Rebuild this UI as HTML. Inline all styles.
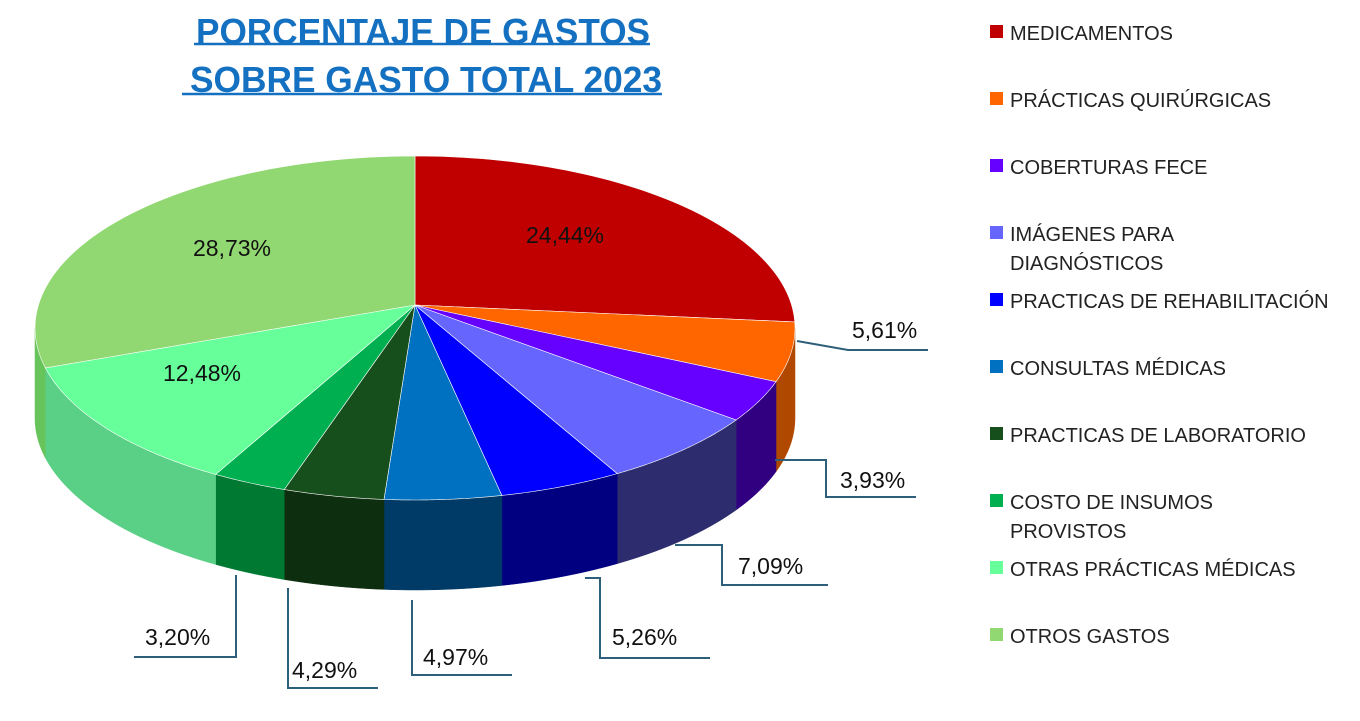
<!DOCTYPE html>
<html><head><meta charset="utf-8"><style>
body{margin:0;background:#fff;}
svg{display:block;font-family:"Liberation Sans",Arial,sans-serif;}
</style></head><body>
<svg id="chart" width="1360" height="721" viewBox="0 0 1360 721">
<g fill="#1470C0" font-weight="bold" font-size="36">
<text x="196" y="44" textLength="454" lengthAdjust="spacingAndGlyphs">PORCENTAJE DE GASTOS</text>
<line x1="194" y1="44" x2="650" y2="44" stroke="#1470C0" stroke-width="2.5"/>
<text x="190" y="92" textLength="472" lengthAdjust="spacingAndGlyphs">SOBRE GASTO TOTAL 2023</text>
<line x1="182" y1="94" x2="662" y2="94" stroke="#1470C0" stroke-width="2.5"/>
</g>
<g id="sides"></g><g id="tops"></g><g id="labels"></g><g id="legend"></g>
</svg>
<script>
const categories=["MEDICAMENTOS","PRÁCTICAS QUIRÚRGICAS","COBERTURAS FECE","IMÁGENES PARA DIAGNÓSTICOS","PRACTICAS DE REHABILITACIÓN","CONSULTAS MÉDICAS","PRACTICAS DE LABORATORIO","COSTO DE INSUMOS PROVISTOS","OTRAS PRÁCTICAS MÉDICAS","OTROS GASTOS"];
const values=[24.44,5.61,3.93,7.09,5.26,4.97,4.29,3.20,12.48,28.73];
const valueLabels=["24,44%","5,61%","3,93%","7,09%","5,26%","4,97%","4,29%","3,20%","12,48%","28,73%"];
const colors=["#C00000","#FF6600","#6600FF","#6666FF","#0000FF","#0070C0","#174F1C","#00B050","#66FF99","#92D872"];
const sideColors=["#800000","#B04800","#300080","#2C2C6E","#000080","#003A66","#0E2E10","#007A33","#5ACF86","#66C45A"];
const NS="http://www.w3.org/2000/svg";
const cx=415,cy=328,rx=380,ry=172,ax=415,ay=305,depth=90;
function pt(frac){const a=frac*2*Math.PI;return [cx+rx*Math.sin(a),cy-ry*Math.cos(a)];}
function mk(tag,attrs,parent){const e=document.createElementNS(NS,tag);for(const k in attrs)e.setAttribute(k,attrs[k]);parent.appendChild(e);return e;}
const total=values.reduce((a,b)=>a+b,0);
const sides=document.getElementById('sides'),tops=document.getElementById('tops'),labels=document.getElementById('labels'),legend=document.getElementById('legend');
let acc=0;const spans=[];
values.forEach((v,i)=>{const s=acc/total,e=(acc+v)/total;spans.push([s,e]);acc+=v;});
// sides
spans.forEach(([s,e],i)=>{
  const a0=Math.max(s,0.25),a1=Math.min(e,0.75);
  if(a1<=a0)return;
  const up=[],dn=[];const n=40;
  for(let k=0;k<=n;k++){const p=pt(a0+(a1-a0)*k/n);up.push(p);dn.unshift([p[0],p[1]+depth]);}
  const el=mk('polygon',{points:up.concat(dn).map(p=>p.join(',')).join(' '),fill:sideColors[i],stroke:sideColors[i],'stroke-width':0.5},sides);
  
  
});
// tops
spans.forEach(([s,e],i)=>{
  const pts=[[ax,ay]];const n=60;
  for(let k=0;k<=n;k++)pts.push(pt(s+(e-s)*k/n));
  const el=mk('polygon',{points:pts.map(p=>p.join(',')).join(' '),fill:colors[i],stroke:'#fff','stroke-width':0.6},tops);
  
  
});
// inside labels
const inside={0:[565,243],8:[202,381],9:[232,256]};
// callouts: [leader polyline, text x, text y]
const callouts={1:[[[797,341],[848,350],[928,350]],852,338],2:[[[775,460],[826,460],[826,497],[916,497]],840,488],3:[[[675,545],[722,545],[722,585],[828,585]],738,574],4:[[[585,578],[600,578],[600,658],[710,658]],612,645],5:[[[412,600],[412,675],[512,675]],423,665],6:[[[288,588],[288,688],[378,688]],292,678],7:[[[236,575],[236,657],[134,657]],145,645]};
values.forEach((v,i)=>{
  if(inside[i]){const t=mk('text',{x:inside[i][0],y:inside[i][1],'font-size':23,'text-anchor':'middle',fill:'#111'},labels);t.textContent=valueLabels[i];
    
    }
  else{const c=callouts[i];
    const l=mk('polyline',{points:c[0].map(p=>p.join(',')).join(' '),fill:'none',stroke:'#2E5F7A','stroke-width':2},labels);
    
    
    const t=mk('text',{x:c[1],y:c[2],'font-size':23,fill:'#111'},labels);t.textContent=valueLabels[i];
    
    }
});
// legend
const legendY=[33,100,167,234,301,368,435,502,569,636];
const legendLines={3:["IMÁGENES PARA","DIAGNÓSTICOS"],7:["COSTO DE INSUMOS","PROVISTOS"]};
categories.forEach((c,i)=>{
  const g=mk('g',{},legend);
  
  
  const y=legendY[i];
  mk('rect',{x:990,y:y-8,width:13,height:13,fill:colors[i]},g);
  const lines=legendLines[i]||[c];
  lines.forEach((ln,k)=>{const t=mk('text',{x:1010,y:y+7+k*29,'font-size':20,fill:'#222'},g);t.textContent=ln;});
});
</script>
</body></html>
